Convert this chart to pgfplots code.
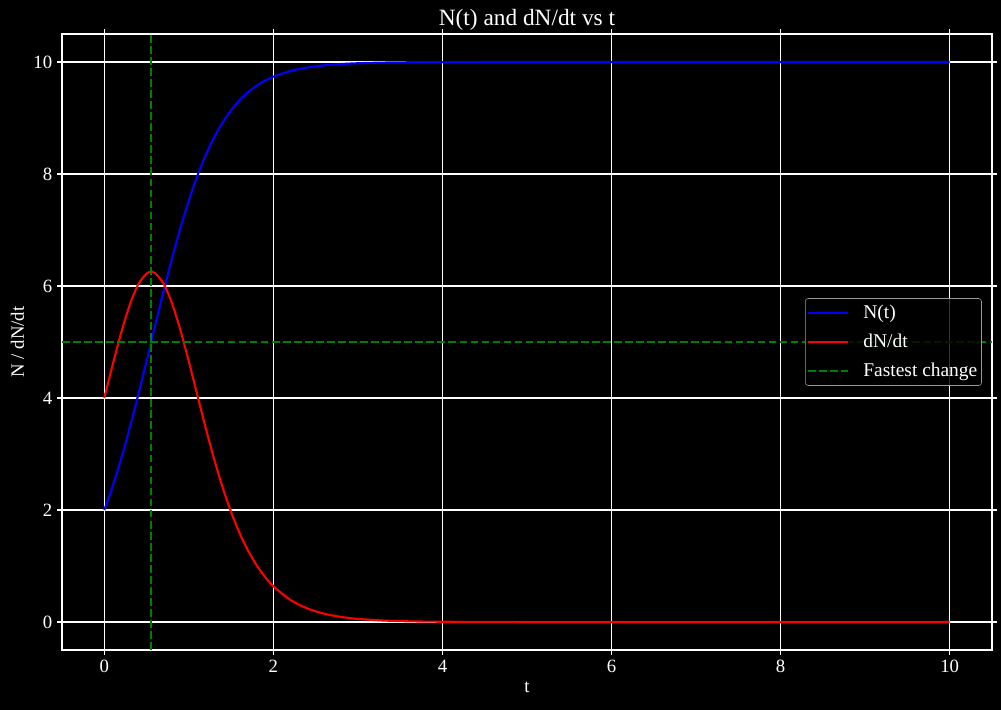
\documentclass[border=0pt]{standalone}
\usepackage{fontspec}
\setmainfont{Liberation Serif}
\usepackage{pgfplots}
\pgfplotsset{compat=1.18}
\definecolor{mgreen}{RGB}{0,128,0}

% logistic growth, K=10, N0=2, r=2.5
\pgfplotstableread{
t N dN
0.0 2.0000 4.0000
0.1 2.4300 4.5988
0.2 2.9188 5.1671
0.3 3.4608 5.6577
0.4 4.0461 6.0225
0.5 4.6598 6.2211
0.5545 5.0000 6.2500
0.6 5.2840 6.2298
0.7 5.8994 6.0478
0.8 6.4879 5.6966
0.9 7.0343 5.2154
1.0 7.5282 4.6520
1.1 7.9636 4.0543
1.2 8.3392 3.4624
1.3 8.6573 2.9060
1.4 8.9223 2.4039
1.5 9.1402 1.9647
1.6 9.3174 1.5900
1.7 9.4602 1.2767
1.8 9.5745 1.0185
1.9 9.6655 0.8083
2.0 9.7376 0.6388
2.2 9.8392 0.3955
2.4 9.9018 0.2431
2.6 9.9402 0.1486
2.8 9.9637 0.0905
3.0 9.9779 0.0551
3.3 9.9896 0.0261
3.6 9.9951 0.0123
4.0 9.9982 0.0045
5.0 9.9999 0.0004
6.0 10.0000 0.0000
8.0 10.0000 0.0000
10.0 10.0000 0.0000
}\logistic

\begin{document}
\begin{tikzpicture}
\fill[black] (-44.64pt,-43.2pt) rectangle (676.08pt,468pt);
\begin{axis}[
    scale only axis, width=669.6pt, height=443.52pt,
    xmin=-0.5, xmax=10.5, ymin=-0.5, ymax=10.5,
    xtick={0,2,...,10}, ytick={0,2,...,10},
    tick align=outside, major tick length=3.5pt,
    every tick/.style={white, line width=0.8pt},
    axis line style={white, line width=0.8pt},
    grid=major, grid style={white, line width=0.8pt},
    axis background/.style={fill=black},
    /pgf/number format/assume math mode=true,
    ticklabel style={white, font=\fontsize{13.5}{16}\selectfont},
    label style={white, font=\fontsize{13.5}{16}\selectfont},
    title style={white, font=\fontsize{16.8}{20}\selectfont, yshift=-7pt},
    title={N(t) and dN/dt vs t},
    xlabel={t}, ylabel={N / dN/dt},
    legend style={at={(rel axis cs:0.989,0.5)}, anchor=east,
        fill=black, fill opacity=0.8, text opacity=1, draw=gray!80,
        rounded corners=2pt, text=white, font=\fontsize{14}{16}\selectfont,
        row sep=5.5pt, inner xsep=1pt, inner ysep=3pt,
        nodes={inner sep=2pt}},
    legend image code/.code={\path[draw=none] (0pt,0pt) -- (38pt,0pt);
        \draw[#1] (0pt,0pt) -- (29pt,0pt);},
    legend cell align=left,
]
\addplot[blue, line width=1.5pt, smooth, tension=0.5] table[x=t, y=N] {\logistic};
\addlegendentry{N(t)}
\addplot[red, line width=1.5pt, smooth, tension=0.5] table[x=t, y=dN] {\logistic};
\addlegendentry{dN/dt}
\addplot[mgreen, line width=1.5pt, dash pattern=on 5.55pt off 2.4pt] coordinates {(0.5545,-0.5) (0.5545,10.5)};
\addlegendentry{Fastest change}
\addplot[mgreen, line width=1.5pt, dash pattern=on 5.55pt off 2.4pt, forget plot] coordinates {(-0.5,5) (10.5,5)};
\end{axis}
\end{tikzpicture}
\end{document}
